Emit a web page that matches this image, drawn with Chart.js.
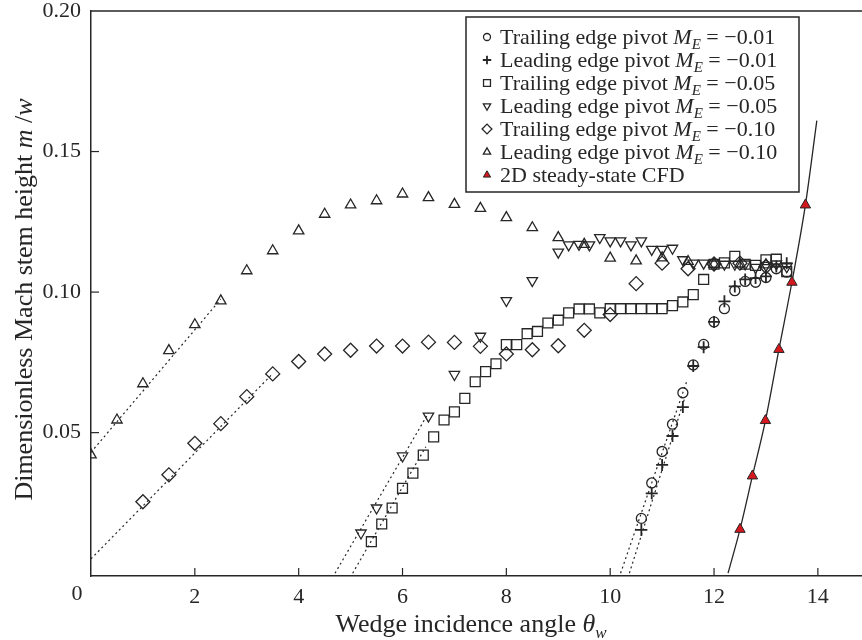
<!DOCTYPE html>
<html><head><meta charset="utf-8">
<script src="https://cdn.jsdelivr.net/npm/chart.js@4/dist/chart.umd.min.js"></script>
<style>html,body{margin:0;padding:0;background:#fff}#wrap{width:862px;height:640px;position:relative}</style>
</head><body><div id="wrap"><canvas id="c" width="862" height="640"></canvas></div>
<script>
// ---------------- data ----------------
const xTicks = [0, 2, 4, 6, 8, 10, 12, 14];
const yTicks = [0, 0.05, 0.10, 0.15, 0.20];

// Trailing edge pivot M_E = -0.01 (circles)
const te001X = [10.6, 10.8, 11.0, 11.2, 11.4, 11.6, 11.8, 12.0, 12.2, 12.4, 12.6, 12.8, 13.0, 13.2, 13.4];
const te001Y = [0.0195, 0.0321, 0.0433, 0.053, 0.0642, 0.0741, 0.0814, 0.0894, 0.0941, 0.1005, 0.1038, 0.1035, 0.1052, 0.1083, 0.1071];
// Leading edge pivot M_E = -0.01 (plus)
const le001X = [10.6, 10.8, 11.0, 11.2, 11.4, 11.6, 11.8, 12.0, 12.2, 12.4, 12.6, 12.8, 13.0, 13.2, 13.4];
const le001Y = [0.0154, 0.0284, 0.0385, 0.0488, 0.0591, 0.0737, 0.0804, 0.0894, 0.0967, 0.102, 0.1045, 0.105, 0.1056, 0.1091, 0.1103];
// Trailing edge pivot M_E = -0.05 (squares)
const te005X = [5.4, 5.6, 5.8, 6.0, 6.2, 6.4, 6.6, 6.8, 7.0, 7.2, 7.4, 7.6, 7.8, 8.0, 8.2, 8.4, 8.6, 8.8, 9.0, 9.2, 9.4, 9.6, 9.8, 10.0, 10.2, 10.4, 10.6, 10.8, 11.0, 11.2, 11.4, 11.6, 11.8, 12.0, 12.2, 12.4, 12.6, 12.8, 13.0, 13.2, 13.4];
const te005Y = [0.0112, 0.0175, 0.0232, 0.0302, 0.0356, 0.042, 0.0485, 0.0545, 0.0574, 0.0622, 0.0681, 0.0717, 0.0745, 0.0813, 0.0813, 0.0852, 0.086, 0.089, 0.09, 0.0926, 0.094, 0.094, 0.0926, 0.0941, 0.0941, 0.0941, 0.0941, 0.0941, 0.0941, 0.0952, 0.0965, 0.0991, 0.1045, 0.1099, 0.1104, 0.1127, 0.1099, 0.1095, 0.1115, 0.1117, 0.1073];
// Leading edge pivot M_E = -0.05 (down triangles)
const le005X = [5.2, 5.5, 6.0, 6.5, 7.0, 7.5, 8.0, 8.5, 9.0, 9.2, 9.4, 9.6, 9.8, 10.0, 10.2, 10.4, 10.6, 10.8, 11.0, 11.2, 11.4, 11.6, 11.8, 12.0, 12.2, 12.4, 12.6, 12.8, 13.0, 13.2, 13.4];
const le005Y = [0.0143, 0.0232, 0.0417, 0.0559, 0.0707, 0.0843, 0.097, 0.1041, 0.1142, 0.1168, 0.117, 0.1168, 0.1194, 0.1182, 0.1182, 0.1168, 0.1182, 0.1152, 0.1152, 0.1156, 0.1115, 0.1103, 0.1103, 0.110, 0.1099, 0.1099, 0.110, 0.1088, 0.1095, 0.110, 0.109];
// Trailing edge pivot M_E = -0.10 (diamonds)
const te010X = [1.0, 1.5, 2.0, 2.5, 3.0, 3.5, 4.0, 4.5, 5.0, 5.5, 6.0, 6.5, 7.0, 7.5, 8.0, 8.5, 9.0, 9.5, 10.0, 10.5, 11.0, 11.5, 12.0, 12.5, 13.0];
const te010Y = [0.0254, 0.035, 0.0462, 0.0532, 0.0628, 0.0709, 0.0753, 0.078, 0.0793, 0.0808, 0.0808, 0.0822, 0.0821, 0.0807, 0.078, 0.0795, 0.0809, 0.0864, 0.092, 0.103, 0.1103, 0.1083, 0.110, 0.1103, 0.1091];
// Leading edge pivot M_E = -0.10 (up triangles)
const le010X = [0, 0.5, 1.0, 1.5, 2.0, 2.5, 3.0, 3.5, 4.0, 4.5, 5.0, 5.5, 6.0, 6.5, 7.0, 7.5, 8.0, 8.5, 9.0, 9.5, 10.0, 10.5, 11.0, 11.5, 12.0, 12.5, 13.0];
const le010Y = [0.0421, 0.0545, 0.0674, 0.0792, 0.0884, 0.0969, 0.1076, 0.1147, 0.1218, 0.1277, 0.131, 0.1325, 0.1349, 0.1336, 0.1312, 0.1298, 0.1265, 0.1229, 0.1194, 0.117, 0.1121, 0.1111, 0.1122, 0.1109, 0.1099, 0.110, 0.1097];
// 2D steady-state CFD (filled red triangles) and its curve
const cfdX = [12.5, 12.74, 12.99, 13.25, 13.5, 13.76];
const cfdY = [0.0156, 0.0346, 0.0543, 0.0796, 0.1035, 0.131];
const cfdCurveX = [12.27, 12.5, 12.74, 12.99, 13.25, 13.5, 13.76, 13.98];
const cfdCurveY = [0.0, 0.0156, 0.0346, 0.0543, 0.0796, 0.1035, 0.131, 0.161];
// dotted linear fits
const fitLe010X = [0, 2.5],    fitLe010Y = [0.043, 0.0975];
const fitTe010X = [0, 3.5],    fitTe010Y = [0.0051, 0.071];
const fitLe005X = [4.7, 6.5],  fitLe005Y = [0.0, 0.057];
const fitTe005X = [5.04, 6.45],fitTe005Y = [0.0, 0.045];
const fitTe001X = [10.2, 11.47], fitTe001Y = [0.0, 0.068];
const fitLe001X = [10.37, 11.43], fitLe001Y = [0.0, 0.062];

const legendLabels = [
  ['Trailing edge pivot ', '\u22120.01'],
  ['Leading edge pivot ', '\u22120.01'],
  ['Trailing edge pivot ', '\u22120.05'],
  ['Leading edge pivot ', '\u22120.05'],
  ['Trailing edge pivot ', '\u22120.10'],
  ['Leading edge pivot ', '\u22120.10'],
  ['2D steady-state CFD', null]
];

// ---------------- styling ----------------
const FONT = '"Liberation Serif", "Times New Roman", serif';
const INK = '#262626';
const RED = '#d4181e';
const pts = (xs, ys) => xs.map((x, i) => ({x: x, y: ys[i]}));

const markerStyles = [
  {pointStyle: 'circle', radius: 5, rot: 0, bg: 'rgba(0,0,0,0)', bw: 1.3},
  {pointStyle: 'cross', radius: 6, rot: 0, bg: 'rgba(0,0,0,0)', bw: 1.8},
  {pointStyle: 'rect', radius: 7, rot: 0, bg: 'rgba(0,0,0,0)', bw: 1.3},
  {pointStyle: 'triangle', radius: 6, rot: 180, bg: 'rgba(0,0,0,0)', bw: 1.3},
  {pointStyle: 'rectRot', radius: 7, rot: 0, bg: 'rgba(0,0,0,0)', bw: 1.3},
  {pointStyle: 'triangle', radius: 6, rot: 0, bg: 'rgba(0,0,0,0)', bw: 1.3},
  {pointStyle: 'triangle', radius: 6, rot: 0, bg: RED, bw: 1.0}
];
const seriesData = [pts(te001X, te001Y), pts(le001X, le001Y), pts(te005X, te005Y), pts(le005X, le005Y), pts(te010X, te010Y), pts(le010X, le010Y), pts(cfdX, cfdY)];

const fitSets = [pts(fitLe010X, fitLe010Y), pts(fitTe010X, fitTe010Y), pts(fitLe005X, fitLe005Y), pts(fitTe005X, fitTe005Y), pts(fitTe001X, fitTe001Y), pts(fitLe001X, fitLe001Y)];

const datasets = [];
fitSets.forEach(d => datasets.push({type: 'line', data: d, borderColor: INK, borderWidth: 1.2, borderDash: [2, 3], pointRadius: 0, fill: false, order: 5}));
datasets.push({type: 'line', data: pts(cfdCurveX, cfdCurveY), borderColor: INK, borderWidth: 1.3, pointRadius: 0, fill: false, cubicInterpolationMode: 'monotone', order: 4});
seriesData.forEach((d, i) => {
  const m = markerStyles[i];
  datasets.push({type: 'scatter', data: d, pointStyle: m.pointStyle, pointRadius: m.radius, pointRotation: m.rot,
    pointBackgroundColor: m.bg, pointBorderColor: INK, pointBorderWidth: m.bw, showLine: false, order: 1});
});

function drawParts(ctx, parts, x, y) {
  let cx = x;
  parts.forEach(p => { ctx.font = p[1]; ctx.fillText(p[0], cx, y + (p[2] || 0)); cx += ctx.measureText(p[0]).width; });
  return cx;
}
function partsWidth(ctx, parts) {
  let w = 0; parts.forEach(p => { ctx.font = p[1]; w += ctx.measureText(p[0]).width; }); return w;
}

const decor = {
  id: 'decor',
  afterDraw(chart) {
    const {ctx, chartArea: a, scales: {x, y}} = chart;
    ctx.save();
    ctx.strokeStyle = INK; ctx.fillStyle = INK;
    ctx.lineWidth = 1.5;
    ctx.beginPath(); ctx.moveTo(a.left, a.top); ctx.lineTo(a.right, a.top); ctx.stroke();
    ctx.lineWidth = 1.2;
    xTicks.forEach(v => { if (v === 0) return; const px = x.getPixelForValue(v); ctx.beginPath(); ctx.moveTo(px, a.bottom); ctx.lineTo(px, a.bottom - 8); ctx.stroke(); });
    yTicks.forEach(v => { if (v === 0 || v >= 0.2) return; const py = y.getPixelForValue(v); ctx.beginPath(); ctx.moveTo(a.left, py); ctx.lineTo(a.left + 8, py); ctx.stroke(); });
    // shared origin label
    ctx.font = '22px ' + FONT; ctx.textAlign = 'center'; ctx.textBaseline = 'middle';
    ctx.fillText('0', a.left - 14, a.bottom + 18);
    ctx.textAlign = 'left'; ctx.textBaseline = 'alphabetic';
    // axis titles
    const R = '22px ' + FONT, I = 'italic 22px ' + FONT, S = 'italic 15px ' + FONT;
    const TR = '26px ' + FONT, TI = 'italic 26px ' + FONT, TS = 'italic 17px ' + FONT;
    const xt = [['Wedge incidence angle ', TR], ['\u03b8', TI], ['w', TS, 6]];
    const xw = partsWidth(ctx, xt);
    drawParts(ctx, xt, 471 - xw / 2, 632);
    const yt = [['Dimensionless Mach stem height ', TR], ['m', TI], [' /', TR], ['w', TI]];
    const yw = partsWidth(ctx, yt);
    ctx.save(); ctx.translate(32, (a.top + a.bottom) / 2 + 6); ctx.rotate(-Math.PI / 2);
    drawParts(ctx, yt, -yw / 2, 0); ctx.restore();
    // legend
    const lx = 466, ly = 17, lw = 333, lh = 175;
    ctx.fillStyle = '#fff'; ctx.fillRect(lx, ly, lw, lh);
    ctx.lineWidth = 1.5; ctx.strokeRect(lx, ly, lw, lh);
    ctx.fillStyle = INK;
    legendLabels.forEach((lab, i) => {
      const cy = 37 + i * 23;
      const m = markerStyles[i];
      ctx.lineWidth = m.bw; ctx.strokeStyle = INK; ctx.fillStyle = m.bg;
      Chart.helpers.drawPoint(ctx, {pointStyle: m.pointStyle, radius: m.radius * 0.7, rotation: m.rot, borderWidth: m.bw}, 487, cy);
      ctx.fillStyle = INK;
      const base = cy + 7;
      if (lab[1] === null) { drawParts(ctx, [[lab[0], R]], 500, base); }
      else drawParts(ctx, [[lab[0], R], ['M', I], ['E', S, 5], [' = ', R], [lab[1], R]], 500, base);
    });
    ctx.restore();
  }
};

new Chart(document.getElementById('c'), {
  type: 'scatter',
  data: {datasets: datasets},
  options: {
    responsive: false, animation: false, devicePixelRatio: 1,
    layout: {autoPadding: false, padding: {top: 11, right: 0, left: 0, bottom: 0}},
    plugins: {legend: {display: false}, tooltip: {enabled: false}},
    scales: {
      x: {type: 'linear', min: 0, max: 14.85,
        afterBuildTicks: s => { s.ticks = xTicks.map(v => ({value: v})); },
        afterFit: s => { s.height = 64; s.paddingLeft = 0; s.paddingRight = 0; },
        grid: {display: false, drawTicks: false},
        border: {display: true, color: INK, width: 1.5},
        ticks: {padding: 8, color: INK, font: {family: FONT, size: 22}, maxRotation: 0, autoSkip: false,
          callback: v => (v === 0 ? '' : String(v))}},
      y: {type: 'linear', min: -0.001, max: 0.2,
        afterBuildTicks: s => { s.ticks = yTicks.map(v => ({value: v})); },
        afterFit: s => { s.width = 91; s.paddingTop = 0; s.paddingBottom = 0; },
        grid: {display: false, drawTicks: false},
        border: {display: true, color: INK, width: 1.5},
        ticks: {padding: 10, color: INK, font: {family: FONT, size: 22}, autoSkip: false,
          callback: v => (v === 0 ? '' : v.toFixed(2))}}
    }
  },
  plugins: [decor]
});
</script>
</body></html>
